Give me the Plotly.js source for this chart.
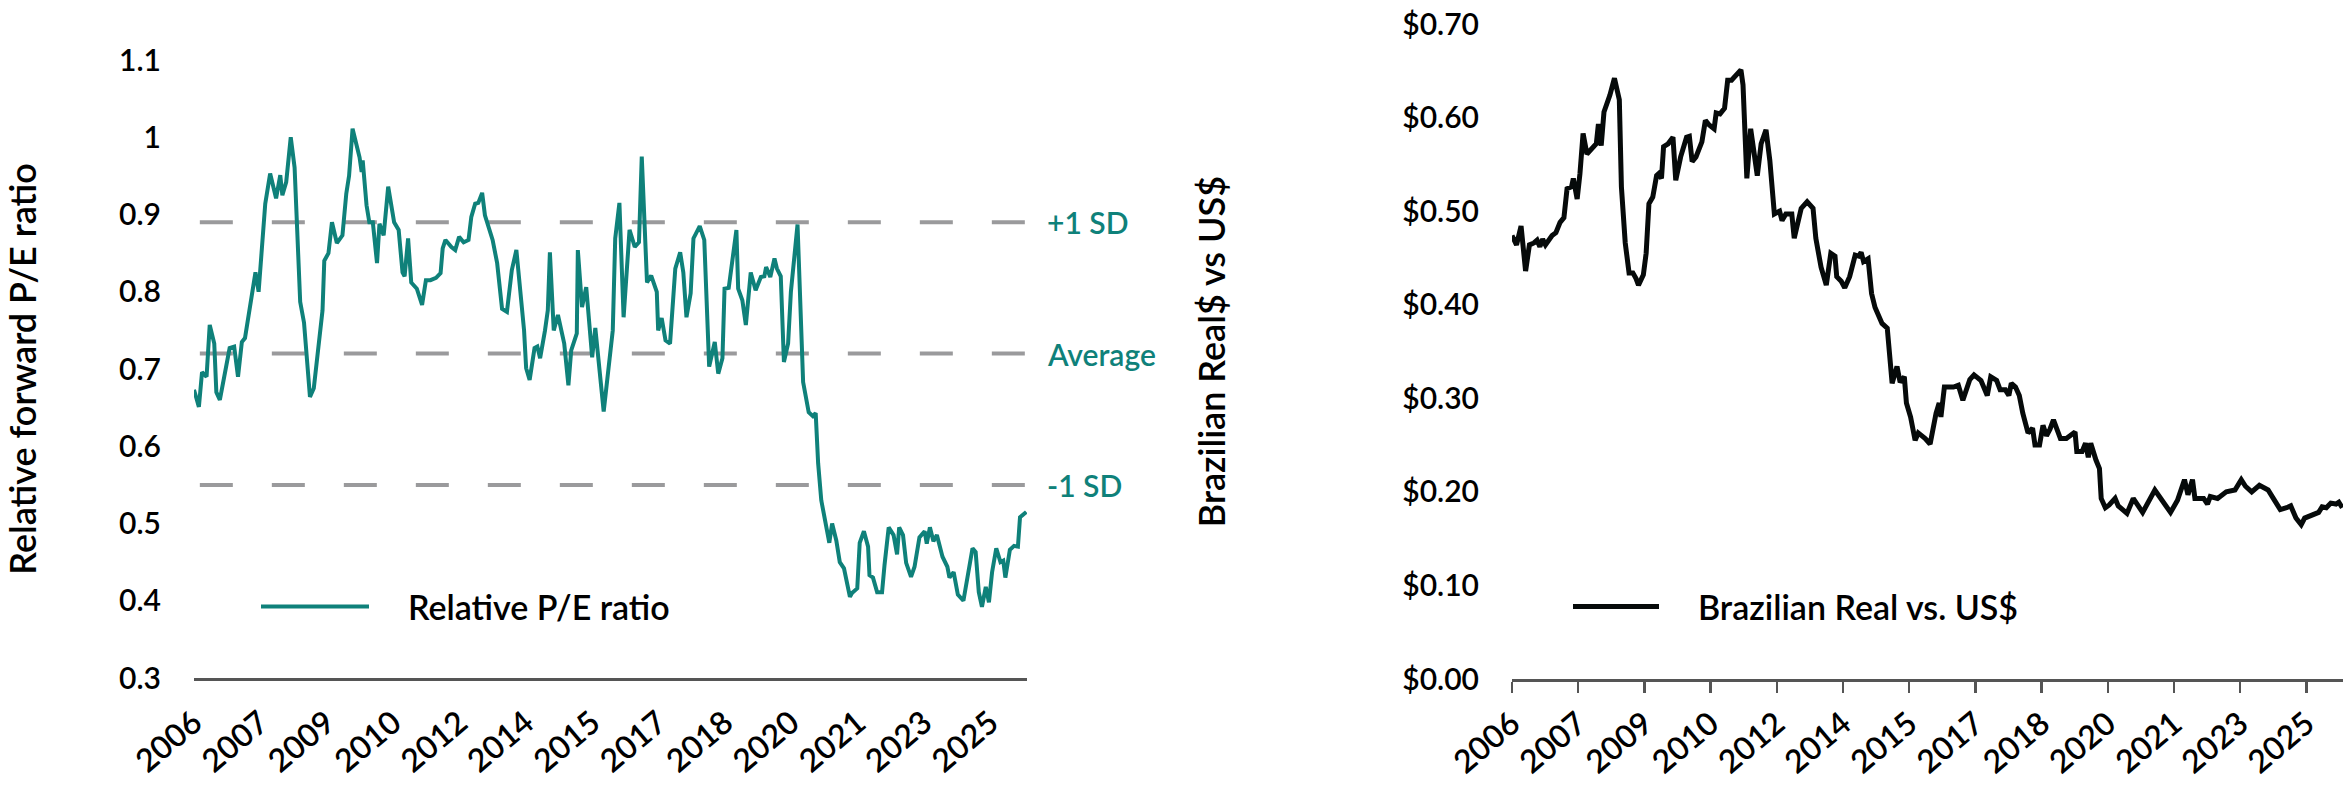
<!DOCTYPE html>
<html>
<head>
<meta charset="utf-8">
<script src="https://cdn.plot.ly/plotly-3.0.1.min.js"></script>
<style>
  html, body { margin: 0; padding: 0; background: #ffffff; }
  #chart { width: 2345px; height: 789px; }
</style>
</head>
<body>
<div id="chart"></div>
<script>
// ---- Data (x = months since Jan 2006) ----
const labelMonths = [1, 20, 39, 58, 77, 96, 115, 134, 153, 172, 191, 210, 229];
const labelYears = ['2006','2007','2009','2010','2012','2014','2015','2017','2018','2020','2021','2023','2025'];

const peMonths = [1.0,2.4,3.3,4.6,5.5,6.8,7.4,8.4,11.2,12.5,
  13.6,14.7,15.6,18.6,19.5,21.4,22.8,24.5,25.7,26.3,
  27.4,28.7,29.8,31.4,32.5,34.2,35.3,37.8,38.3,39.5,
  40.5,41.9,43.5,44.6,45.4,46.4,48.4,49.0,49.3,50.4,
  51.2,52.2,53.4,54.1,55.3,56.6,58.3,59.6,60.7,61.3,
  62.3,63.2,64.8,66.3,67.4,68.7,70.3,71.6,72.2,73.0,
  74.7,75.8,76.9,78.2,79.6,80.4,81.5,82.4,83.5,84.3,
  86.5,87.8,89.2,90.6,92.0,93.3,95.5,96.1,97.1,98.5,
  99.3,100.1,101.5,102.3,102.9,104.0,105.2,107.0,108.2,109.0,
  110.6,110.9,112.1,113.3,115.0,115.9,118.3,120.9,121.6,122.8,
  124.0,125.7,127.2,128.4,129.2,130.7,131.9,133.5,133.9,134.9,
  136.0,137.3,138.8,140.2,141.1,142.0,143.2,144.0,145.8,147.1,
  148.5,150.1,151.1,152.3,152.9,154.1,156.3,156.8,158.0,159.0,
  160.4,161.8,163.3,164.3,164.8,166.0,167.2,167.9,169.0,169.9,
  171.1,171.9,173.8,175.4,177.0,178.2,179.0,179.7,180.6,181.7,
  182.9,183.7,184.9,185.9,187.1,188.8,189.4,190.9,191.6,192.8,
  194.0,194.4,195.4,196.6,198.0,198.7,199.9,201.3,202.3,202.9,
  204.0,204.9,206.3,207.3,208.7,210.2,210.8,211.7,212.7,213.7,
  215.3,216.7,217.3,218.5,219.7,221.3,222.4,223.9,224.8,225.7,
  226.6,227.7,228.6,229.5,230.7,231.9,232.7,233.3,234.6,235.8,
  236.9,237.5,239.3];
const peValues = [0.673,0.651,0.696,0.69,0.757,0.733,0.67,0.66,0.727,0.729,
  0.69,0.735,0.74,0.825,0.80,0.914,0.953,0.921,0.951,0.925,
  0.942,1.0,0.961,0.787,0.76,0.664,0.675,0.776,0.84,0.85,
  0.89,0.863,0.873,0.927,0.95,1.011,0.974,0.955,0.97,0.912,
  0.89,0.89,0.837,0.888,0.873,0.936,0.89,0.88,0.825,0.82,
  0.869,0.812,0.804,0.783,0.815,0.815,0.818,0.824,0.856,0.867,
  0.858,0.854,0.871,0.864,0.867,0.897,0.914,0.915,0.928,0.899,
  0.867,0.837,0.778,0.774,0.828,0.854,0.75,0.701,0.686,0.727,
  0.729,0.714,0.75,0.776,0.851,0.75,0.77,0.733,0.679,0.724,
  0.746,0.854,0.78,0.806,0.715,0.753,0.645,0.75,0.869,0.915,
  0.767,0.88,0.858,0.864,0.975,0.812,0.821,0.80,0.75,0.766,
  0.737,0.733,0.83,0.851,0.825,0.767,0.798,0.869,0.885,0.867,
  0.703,0.735,0.694,0.714,0.804,0.805,0.88,0.804,0.789,0.757,
  0.825,0.802,0.819,0.82,0.832,0.819,0.843,0.83,0.82,0.709,
  0.733,0.80,0.887,0.683,0.644,0.639,0.643,0.578,0.53,0.504,
  0.475,0.50,0.478,0.45,0.442,0.405,0.41,0.416,0.475,0.49,
  0.47,0.433,0.43,0.411,0.411,0.446,0.495,0.485,0.46,0.495,
  0.485,0.449,0.431,0.444,0.482,0.49,0.474,0.495,0.477,0.485,
  0.457,0.444,0.43,0.437,0.408,0.40,0.427,0.468,0.463,0.411,
  0.392,0.418,0.398,0.437,0.468,0.45,0.452,0.43,0.466,0.471,
  0.47,0.508,0.515];

const fxMonths = [1.0,2.3,3.6,4.9,6.0,7.3,8.2,9.0,9.8,10.6,
  12.5,13.6,14.8,15.9,16.8,18.1,18.6,19.7,20.5,21.4,
  22.5,23.9,25.2,25.8,26.6,27.4,29.1,30.4,31.8,32.4,
  33.5,34.6,35.7,36.6,37.3,38.7,39.5,40.3,41.4,42.5,
  43.1,43.9,44.5,45.8,47.2,48.0,49.4,51.1,51.9,52.7,
  53.8,55.5,56.5,57.6,59.0,59.6,60.7,62.0,62.9,64.0,
  65.3,66.7,67.3,68.4,69.5,71.4,72.5,73.9,75.0,76.3,
  77.8,78.5,79.6,81.3,82.0,84.0,85.7,87.4,88.2,89.7,
  91.2,92.5,93.7,94.2,95.5,96.5,97.9,98.5,99.5,100.5,
  101.2,101.9,103.2,104.2,105.2,107.2,108.7,110.1,111.5,112.4,
  113.6,114.2,115.4,116.7,117.6,119.6,121.0,122.7,123.6,124.1,
  125.1,127.7,129.1,130.4,132.4,133.6,135.6,137.4,138.4,140.1,
  141.1,142.6,143.6,144.3,145.5,146.6,147.6,149.1,150.4,151.1,
  152.4,153.4,154.4,155.4,156.4,158.4,160.1,162.6,163.1,164.6,
  165.6,166.4,167.1,168.6,169.6,170.1,171.3,172.4,174.1,175.0,
  177.5,179.3,182.0,185.5,187.0,190.0,192.0,194.0,195.0,196.3,
  197.0,199.5,200.6,201.4,203.5,205.0,206.0,208.5,210.3,211.5,
  213.3,215.5,218.0,219.5,221.5,223.3,224.5,226.0,227.5,228.5,
  230.5,232.5,233.5,234.7,236.0,237.5,238.3,239.3];
const fxValues = [0.474,0.464,0.484,0.436,0.464,0.466,0.469,0.462,0.47,0.464,
  0.474,0.477,0.488,0.493,0.524,0.526,0.535,0.513,0.54,0.583,
  0.561,0.567,0.572,0.593,0.57,0.606,0.624,0.642,0.619,0.526,
  0.466,0.434,0.434,0.428,0.421,0.432,0.455,0.508,0.515,0.538,
  0.54,0.535,0.569,0.572,0.579,0.533,0.558,0.579,0.58,0.553,
  0.558,0.574,0.597,0.592,0.588,0.605,0.604,0.61,0.64,0.64,
  0.645,0.651,0.635,0.535,0.588,0.538,0.572,0.587,0.554,0.497,
  0.50,0.49,0.497,0.497,0.471,0.503,0.51,0.503,0.471,0.44,
  0.421,0.455,0.452,0.43,0.425,0.418,0.43,0.44,0.453,0.452,
  0.456,0.446,0.449,0.412,0.397,0.38,0.375,0.316,0.334,0.317,
  0.323,0.295,0.28,0.255,0.263,0.257,0.251,0.284,0.295,0.28,
  0.312,0.312,0.314,0.298,0.32,0.325,0.319,0.303,0.323,0.319,
  0.309,0.309,0.303,0.316,0.312,0.303,0.284,0.263,0.268,0.25,
  0.25,0.271,0.26,0.267,0.277,0.257,0.257,0.264,0.243,0.243,
  0.252,0.237,0.252,0.234,0.225,0.193,0.183,0.186,0.193,0.185,
  0.177,0.193,0.178,0.202,0.194,0.178,0.191,0.213,0.197,0.213,
  0.193,0.193,0.187,0.195,0.193,0.197,0.2,0.202,0.213,0.206,
  0.2,0.207,0.202,0.193,0.181,0.183,0.185,0.172,0.165,0.172,
  0.175,0.178,0.184,0.183,0.188,0.187,0.189,0.183];

const sdLevels = [0.89, 0.72, 0.55];
const sdLabels = ['+1 SD', 'Average', '-1 SD'];

const peTicks = [0.3, 0.4, 0.5, 0.6, 0.7, 0.8, 0.9, 1.0, 1.1];
const peTickText = ['0.3','0.4','0.5','0.6','0.7','0.8','0.9','1','1.1'];
const fxTicks = [0, 0.1, 0.2, 0.3, 0.4, 0.5, 0.6, 0.7];

// ---- Styling ----
const W = 2345, H = 789;
const FONT = 'Lato, "Open Sans", sans-serif';
const TEAL = '#0f817a';
const px = (v) => v / W;
const py = (v) => (H - v) / H;
const GAP = '\u2002\u2002';

const traces = [
  { x: peMonths, y: peValues, type: 'scatter', mode: 'lines', name: GAP + 'Relative P/E ratio',
    line: { color: TEAL, width: 4 }, xaxis: 'x', yaxis: 'y', legend: 'legend', hoverinfo: 'skip' },
  { x: fxMonths, y: fxValues, type: 'scatter', mode: 'lines', name: GAP + 'Brazilian Real vs. US$',
    line: { color: '#060a0a', width: 5 }, xaxis: 'x2', yaxis: 'y2', legend: 'legend2', hoverinfo: 'skip' }
];

const yTickFont = { family: FONT, size: 30, color: '#000000', weight: 600 };
const xTickFont = { family: FONT, size: 32, color: '#000000', weight: 600 };
const titleFont = { family: FONT, size: 36, color: '#000000', weight: 600 };
const legendFont = { family: FONT, size: 34, color: '#000000', weight: 600 };

const xCommon = {
  range: [1, 239.5], tickvals: labelMonths, ticktext: labelYears, tickangle: -40,
  tickfont: xTickFont, showgrid: false, zeroline: false, showline: true,
  linecolor: '#555555', linewidth: 2.5, ticks: 'outside', ticklen: 11, tickwidth: 2.5
};

const shapes = sdLevels.map(v => ({
  type: 'line', xref: 'x domain', yref: 'y', x0: 0.007, x1: 1, y0: v, y1: v,
  line: { color: '#9a9a9c', width: 4, dash: '33px,39px' }, layer: 'below'
}));

const annotations = sdLevels.map((v, i) => ({
  xref: 'paper', yref: 'y', x: px(1045), y: v, xanchor: 'left', yanchor: 'middle',
  text: sdLabels[i], showarrow: false, font: { family: FONT, size: 30, color: TEAL, weight: 600 }
}));

const layout = {
  width: W, height: H,
  margin: { l: 0, r: 0, t: 0, b: 0 },
  paper_bgcolor: '#ffffff', plot_bgcolor: '#ffffff',
  font: { family: FONT, color: '#000000' },
  xaxis: Object.assign({}, xCommon, { domain: [px(194), px(1027)], anchor: 'y', tickcolor: 'rgba(0,0,0,0)' }),
  yaxis: {
    domain: [py(678), py(60)], range: [0.3, 1.1], anchor: 'x',
    tickvals: peTicks, ticktext: peTickText, tickfont: yTickFont,
    showgrid: false, zeroline: false, showline: false, ticks: '', ticklabelstandoff: 32,
    title: { text: 'Relative forward P/E ratio', font: titleFont, standoff: 72 }
  },
  xaxis2: Object.assign({}, xCommon, { domain: [px(1512), px(2343)], anchor: 'y2', tickcolor: '#555555' }),
  yaxis2: {
    domain: [py(679), py(24)], range: [0, 0.7], anchor: 'x2',
    tickvals: fxTicks, tickformat: '$.2f', tickfont: yTickFont,
    showgrid: false, zeroline: false, showline: false, ticks: '', ticklabelstandoff: 32,
    title: { text: 'Brazilian Real$ vs US$', font: titleFont, standoff: 165 }
  },
  legend: {
    x: px(256), xanchor: 'left', y: py(607), yanchor: 'middle',
    font: legendFont, itemwidth: 108,
    bgcolor: 'rgba(0,0,0,0)', borderwidth: 0
  },
  legend2: {
    x: px(1568), xanchor: 'left', y: py(607), yanchor: 'middle',
    font: legendFont, itemwidth: 86,
    bgcolor: 'rgba(0,0,0,0)', borderwidth: 0
  },
  showlegend: true,
  shapes: shapes,
  annotations: annotations
};

Plotly.newPlot('chart', traces, layout, { staticPlot: true, displayModeBar: false });
</script>
</body>
</html>
